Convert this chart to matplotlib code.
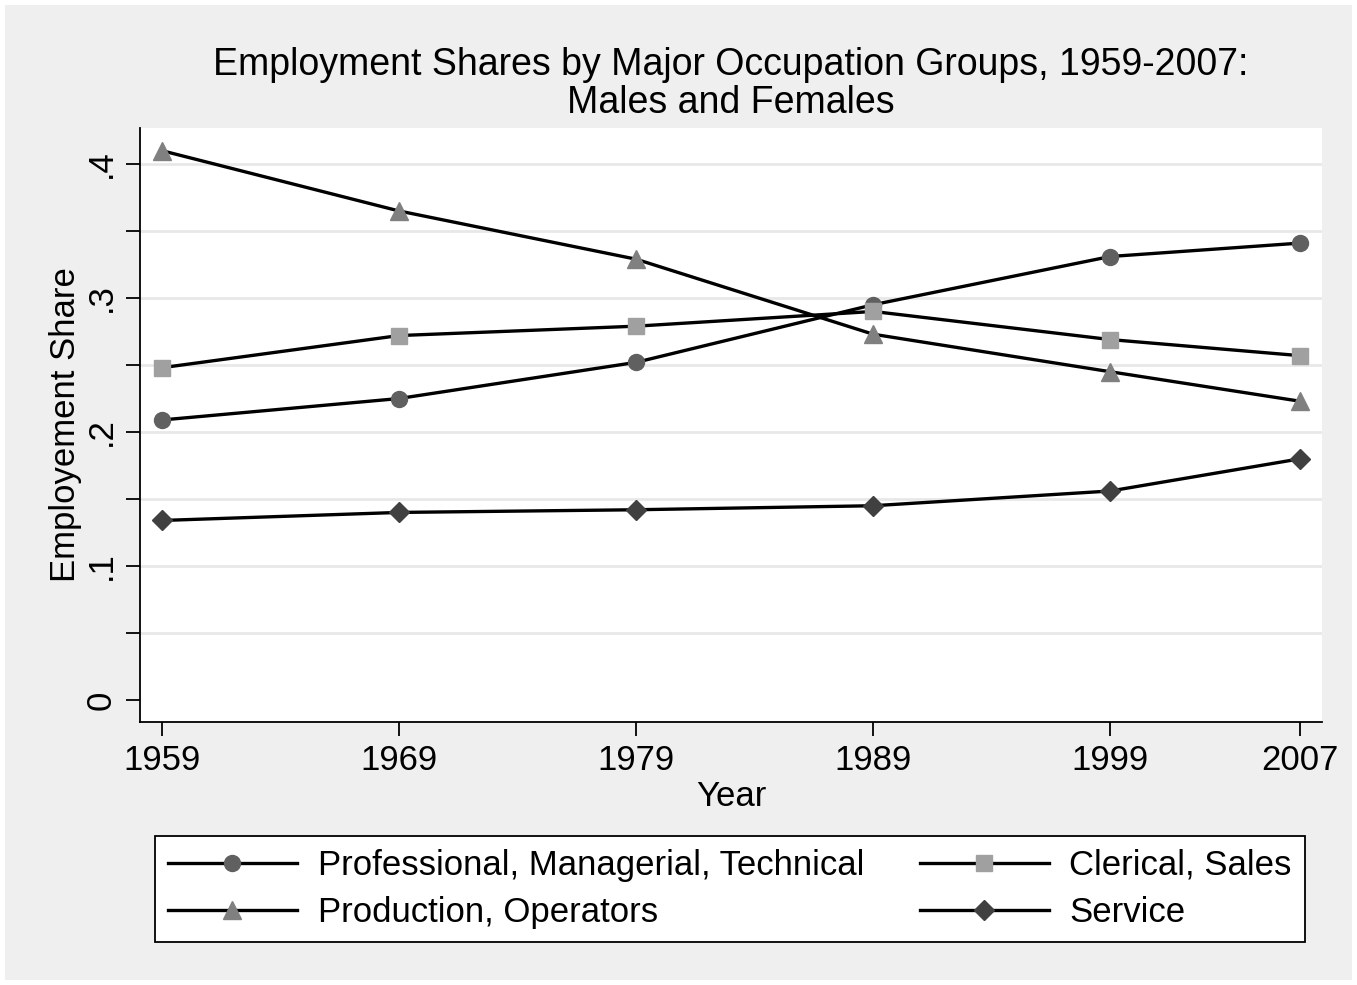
import numpy as np
import matplotlib.pyplot as plt
from matplotlib.patches import Rectangle

plt.rcParams['font.family'] = ['Liberation Sans', 'DejaVu Sans']

years = [1959, 1969, 1979, 1989, 1999, 2007]
prof = [0.209, 0.225, 0.252, 0.295, 0.331, 0.341]
cler = [0.248, 0.272, 0.279, 0.290, 0.269, 0.257]
prod = [0.410, 0.365, 0.329, 0.273, 0.245, 0.223]
serv = [0.134, 0.140, 0.142, 0.145, 0.156, 0.180]

names = ['Professional, Managerial, Technical', 'Clerical, Sales',
         'Production, Operators', 'Service']

W, H = 1357, 985
fig = plt.figure(figsize=(W / 100, H / 100), dpi=100, facecolor='white')
# grey graph region with thin white edge
fig.patches.append(Rectangle((5 / W, 5 / H), 1 - 10 / W, 1 - 10 / H,
                             transform=fig.transFigure, facecolor='#efefef',
                             edgecolor='none', zorder=-10))

ax = fig.add_axes([140 / W, (H - 722) / H, (1322 - 140) / W, (722 - 128) / H])
ax.set_facecolor('white')

l1, = ax.plot(years, prof, color='black', lw=2.4, marker='o', ms=11.5,
              mfc='#606060', mec='#606060', label=names[0], zorder=3)
l2, = ax.plot(years, cler, color='black', lw=2.4, marker='s', ms=11,
              mfc='#a0a0a0', mec='#a0a0a0', label=names[1], zorder=3)
l3, = ax.plot(years, prod, color='black', lw=2.4, marker='^', ms=12.5,
              mfc='#808080', mec='#808080', label=names[2], zorder=3)
l4, = ax.plot(years, serv, color='black', lw=2.4, marker='D', ms=10.5,
              mfc='#404040', mec='#404040', label=names[3], zorder=3)

ax.set_xlim(1958.08, 2007.93)
ax.set_ylim(-0.0164, 0.4269)
ax.set_xticks(years)
ax.set_xticklabels([str(y) for y in years])
ax.set_yticks([0, 0.1, 0.2, 0.3, 0.4])
ax.set_yticklabels(['0', '.1', '.2', '.3', '.4'], rotation=90, va='center')
ax.set_yticks(np.arange(0.05, 0.41, 0.05), minor=True)
for yv in np.arange(0.05, 0.41, 0.05):
    ax.axhline(yv, color='#e8e8e8', lw=2, zorder=1)

ax.tick_params(axis='both', which='both', direction='out', length=10,
               width=1.3, labelsize=25, pad=6)
ax.tick_params(axis='y', which='minor', length=10)
for s in ['top', 'right']:
    ax.spines[s].set_visible(False)
for s in ['left', 'bottom']:
    ax.spines[s].set_linewidth(1.3)

ax.set_xlabel('Year', fontsize=25, labelpad=2)
ax.set_ylabel('Employement Share', fontsize=25, labelpad=2)

fig.text(731 / W, 1 - 84 / H,
         'Employment Shares by Major Occupation Groups, 1959-2007:\nMales and Females',
         ha='center', va='center', fontsize=27, linespacing=1.08)

# legend filled row-wise like the original
leg = fig.legend([l1, l3, l2, l4], [names[0], names[2], names[1], names[3]],
                 ncol=2, loc='lower left',
                 bbox_to_anchor=(155 / W, (H - 942) / H, 1150 / W, 110 / H),
                 mode='expand', fontsize=25, handlelength=3.7,
                 handletextpad=0.6, borderpad=0.38, labelspacing=0.4,
                 frameon=True, fancybox=False, edgecolor='black',
                 facecolor='white', framealpha=1, borderaxespad=0)
leg.get_frame().set_linewidth(1.3)

fig.savefig('out.png', dpi=100, facecolor=fig.get_facecolor())
